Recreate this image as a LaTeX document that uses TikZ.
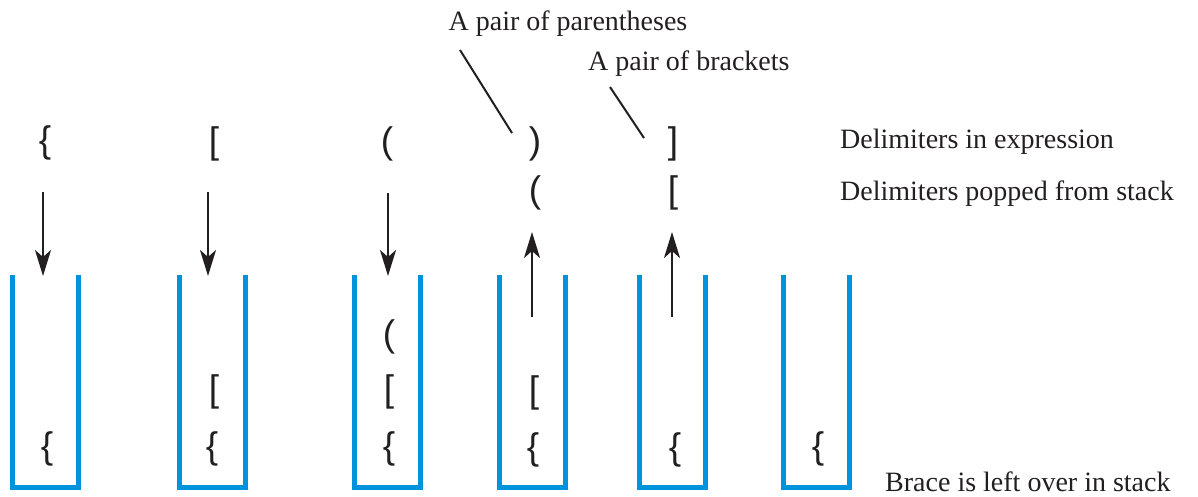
\documentclass[tikz,border=0pt]{standalone}
\usepackage{fontspec}
\setmainfont{Liberation Serif}
\newfontfamily\delimfont{Liberation Sans}
\usetikzlibrary{arrows.meta}
\definecolor{stackblue}{HTML}{0093DD}
\definecolor{ink}{HTML}{231F20}
\begin{document}
\begin{tikzpicture}[x=1pt,y=-1pt,
  stackwall/.style={draw=stackblue,line width=5pt,miter limit=10},
  arr/.style={draw=ink,line width=2.2pt,-{Stealth[length=26pt,width=16pt,inset=7pt]}},
  leader/.style={draw=ink,line width=2pt},
  delim/.style={inner sep=0pt,text=ink,font=\delimfont\fontsize{37}{40}\selectfont},
  lbl/.style={inner sep=0pt,text=ink,font=\fontsize{28}{32}\selectfont}]
\useasboundingbox (0,0) rectangle (1198,496);
% stacks
\foreach \l in {12,179,354,499,639,783}{
  \draw[stackwall] (\l,275) -- (\l,487) -- (\l+66,487) -- (\l+66,275);
}
% top row
\node[delim] (e1) at (45,143) {\{};
\node[delim] (e2) at (214,144) {[};
\node[delim] (e3) at (387,144) {(};
\node[delim] (e4) at (535,144) {)};
\node[delim] (e5) at (673,144) {]};
% popped row
\node[delim] (p4) at (535,193) {(};
\node[delim] (p5) at (673,193) {[};
% stack contents
\node[delim] (s1a) at (47,449) {\{};
\node[delim] (s2a) at (212,449) {\{};
\node[delim] (s2b) at (214,392) {[};
\node[delim] (s3a) at (389,449) {\{};
\node[delim] (s3b) at (389,392) {[};
\node[delim] (s3c) at (389,337) {(};
\node[delim] (s4a) at (533,450) {\{};
\node[delim] (s4b) at (534,393) {[};
\node[delim] (s5a) at (675,450) {\{};
\node[delim] (s6a) at (818,449) {\{};
% arrows
\coordinate (d1s) at (43,192); \coordinate (d1e) at (43,276);
\coordinate (d2s) at (208,192); \coordinate (d2e) at (208,276);
\coordinate (d3s) at (388,193); \coordinate (d3e) at (388,276);
\coordinate (u4s) at (532,317); \coordinate (u4e) at (532,232);
\coordinate (u5s) at (672,317); \coordinate (u5e) at (672,232);
\draw[arr] (d1s) -- (d1e);
\draw[arr] (d2s) -- (d2e);
\draw[arr] (d3s) -- (d3e);
\draw[arr] (u4s) -- (u4e);
\draw[arr] (u5s) -- (u5e);
% labels
\node[lbl,anchor=base] (lp) at (568,30) {A pair of parentheses};
\node[lbl,anchor=base west] (lb) at (588,70) {A pair of brackets};
\node[lbl,anchor=base west] (lx) at (840,148) {Delimiters in expression};
\node[lbl,anchor=base west] (ly) at (840,200) {Delimiters popped from stack};
\node[lbl,anchor=base west] (lz) at (885,491) {Brace is left over in stack};
% leaders
\coordinate (lp1) at (460,50); \coordinate (lp2) at (512,133);
\coordinate (lb1) at (610,87); \coordinate (lb2) at (644,138);
\draw[leader] (lp1) -- (lp2);
\draw[leader] (lb1) -- (lb2);
\end{tikzpicture}
\end{document}
